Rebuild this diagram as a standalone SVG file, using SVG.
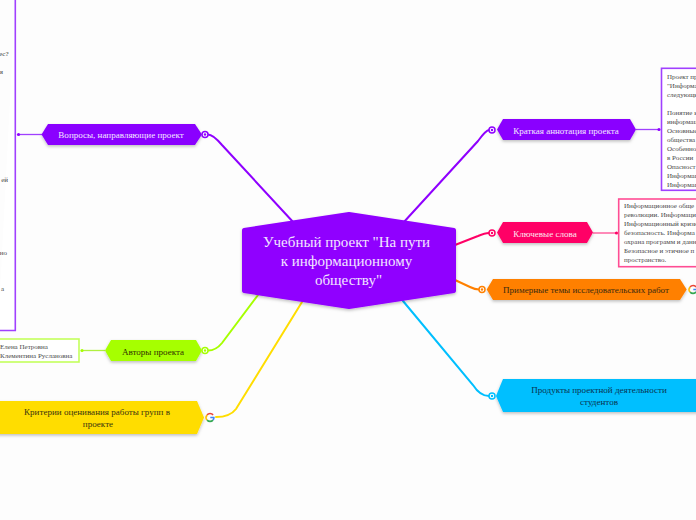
<svg xmlns="http://www.w3.org/2000/svg" width="696" height="520" viewBox="0 0 696 520">
<style>
text{font-family:"Liberation Serif","Times New Roman",serif}
.n{font-size:9.05px;text-anchor:middle}
.w{fill:#f3e6ff}
.p{fill:#fbe6f0}
.d{fill:#333300}
.b{fill:#3a2a10}
.y{fill:#3a3410}
.c{fill:#0a3350}
.s{filter:url(#sh)}
.t{font-size:7px;fill:#4a4a4a}
.l{fill:none;stroke-width:2;stroke-linecap:round}
.k{fill:none;stroke-width:1.3}
.box{fill:#fff;stroke-width:1.6}
.h{fill:#fff;stroke-width:1.5}
.hd{stroke:none}
</style>
<defs>
<filter id="sh" x="-10%" y="-20%" width="120%" height="150%"><feDropShadow dx="0" dy="1.5" stdDeviation="1.5" flood-color="#000" flood-opacity=".25"/></filter>
<g id="goo" fill="none" stroke-width="1.6">
<path d="M3.1 -2.6A4 4 0 0 0 -2.9 -2.6" stroke="#ea4335"/>
<path d="M-2.9 -2.6A4 4 0 0 0 -2.9 2.6" stroke="#fbbc05"/>
<path d="M-2.9 2.6A4 4 0 0 0 3 2.6" stroke="#34a853"/>
<path d="M3 2.6A4 4 0 0 0 3.9 0H0.3" stroke="#4285f4"/>
</g>
</defs>
<rect width="696" height="520" fill="#fdfdfd"/>
<g id="connectors">
<path class="l" stroke="#8f00ff" d="M294 223L222 145Q213 134.500 208 134.500"/>
<path class="l" stroke="#8f00ff" d="M403 223L478 141Q486 130 489 130"/>
<path class="l" stroke="#ff0066" d="M455 245L478 236Q485 233 489 233"/>
<path class="l" stroke="#ff8000" d="M455 280L470 287Q475 289.500 479 289.500"/>
<path class="l" stroke="#00bfff" d="M403 301L473 385Q480 396 489 396"/>
<path class="l" stroke="#a6ff00" d="M258 295L222 343Q216 350.500 208 350.500"/>
<path class="l" stroke="#ffdd00" d="M302 302L236 409Q230 417 216 417"/>
<path class="k" stroke="#a040ff" d="M18 134.500H42"/>
<circle cx="18.500" cy="134.500" r="1.600" fill="#8f00ff"/>
<path class="k" stroke="#b0f040" d="M82 350.500H105"/>
<circle cx="82" cy="350.500" r="1.600" fill="#a6ff00"/>
<path class="k" stroke="#a040ff" d="M636 129.500H659"/>
<circle cx="659" cy="129.500" r="1.600" fill="#8f00ff"/>
<path class="k" stroke="#ff4d94" d="M593 233H616"/>
<circle cx="616.500" cy="233" r="1.600" fill="#ff0066"/>
</g>
<g id="panel-questions">
<path fill="#fff" stroke="#a040ff" stroke-width="1.600" d="M15.300 -2V330.500H-2"/>
<text class="t" x="8.500" y="56" text-anchor="end" style="fill:#333">ес?</text>
<text class="t" x="3" y="74" text-anchor="end">я</text>
<text class="t" x="8" y="182" text-anchor="end">ей</text>
<text class="t" x="7" y="254.500" text-anchor="end">но</text>
<text class="t" x="4" y="290.500" text-anchor="end">а</text>
</g>
<g id="node-questions">
<path class="s" fill="#8a00ff" d="M41.500 134.500L48 124H195L202 134.500L195 145H48Z"/>
<text class="n w" x="121" y="138">Вопросы, направляющие проект</text>
<circle class="h" cx="205" cy="134.500" r="3" stroke="#8f00ff"/>
<circle class="hd" cx="205" cy="134.500" r="1.200" fill="#8f00ff"/>
</g>
<g id="node-center">
<path class="s" fill="#9000ff" stroke="#9000ff" stroke-width="4" stroke-linejoin="round" d="M244 230L349 214L454 230V291L349 307L244 291Z"/>
<text x="346.500" y="246.500" font-size="15" text-anchor="middle" class="w">Учебный проект "На пути</text>
<text x="346.500" y="266" font-size="15" text-anchor="middle" class="w">к информационному</text>
<text x="348.500" y="285" font-size="15" text-anchor="middle" class="w">обществу"</text>
</g>
<g id="node-annotation">
<path class="s" fill="#8a00ff" d="M497 129.500L503 119H630L636 129.500L630 140H503Z"/>
<text class="n w" x="566" y="133.500">Краткая аннотация проекта</text>
<circle class="h" cx="492" cy="130" r="3" stroke="#8f00ff"/>
<circle class="hd" cx="492" cy="130" r="1.200" fill="#8f00ff"/>
</g>
<g id="panel-annotation">
<rect class="box" x="661.500" y="68.300" width="50" height="122" stroke="#a040ff"/>
<text class="t" x="667" y="78.500">Проект пр</text>
<text class="t" x="667" y="87.500">"Информа</text>
<text class="t" x="667" y="96.500">следующи</text>
<text class="t" x="667" y="114.500">Понятие и</text>
<text class="t" x="667" y="123.500">информац</text>
<text class="t" x="667" y="132.500">Основные</text>
<text class="t" x="667" y="141.500">общества</text>
<text class="t" x="667" y="150.500">Особенно</text>
<text class="t" x="667" y="159.500">в России</text>
<text class="t" x="667" y="168.500">Опасност</text>
<text class="t" x="667" y="177.500">Информац</text>
<text class="t" x="667" y="186.500">Информац</text>
</g>
<g id="node-keywords">
<path class="s" fill="#ff0066" d="M497 232.500L503 222H587L593 232.500L587 243H503Z"/>
<text class="n p" x="545" y="236.500">Ключевые слова</text>
<circle class="h" cx="492" cy="233" r="3" stroke="#ff0066"/>
<circle class="hd" cx="492" cy="233" r="1.200" fill="#ff0066"/>
</g>
<g id="panel-keywords">
<rect class="box" x="618.700" y="199" width="90" height="67.700" stroke="#ff4d94"/>
<text class="t" x="624" y="208">Информационное обще</text>
<text class="t" x="624" y="217">революции. Информаци</text>
<text class="t" x="624" y="226.200">Информационный кризи</text>
<text class="t" x="624" y="235.300">безопасность. Информа</text>
<text class="t" x="624" y="244.300">охрана программ и данн</text>
<text class="t" x="624" y="253.300">Безопасное и этичное п</text>
<text class="t" x="624" y="262.300">пространство.</text>
</g>
<g id="node-topics">
<path class="s" fill="#ff8000" d="M486.700 289.500L493 279H680L686.700 289.500L680 300H493Z"/>
<text class="n b" x="586" y="293">Примерные темы исследовательских работ</text>
<circle class="h" cx="482" cy="289.500" r="3" stroke="#ff8000"/>
<circle class="hd" cx="482" cy="289.500" r="1.200" fill="#ff8000"/>
<use href="#goo" x="693" y="289.500"/>
</g>
<g id="node-products">
<path class="s" fill="#00bfff" d="M496 396L503 379H710V412H503Z"/>
<text class="n c" x="599" y="393">Продукты проектной деятельности</text>
<text class="n c" x="599" y="405">студентов</text>
<circle class="h" cx="492" cy="396" r="3" stroke="#00bfff"/>
<circle class="hd" cx="492" cy="396" r="1.200" fill="#00bfff"/>
</g>
<g id="panel-authors">
<rect class="box" x="-5" y="339" width="84" height="23" stroke="#c4ff5c"/>
<text class="t" x="0" y="349">Елена Петровна</text>
<text class="t" x="0" y="358">Клементина Руслановна</text>
</g>
<g id="node-authors">
<path class="s" fill="#a6ff00" d="M105 350.500L111 340H196L202 350.500L196 361H111Z"/>
<text class="n d" x="153" y="354.500">Авторы проекта</text>
<circle class="h" cx="205" cy="350.500" r="3" stroke="#a6ff00"/>
<circle class="hd" cx="205" cy="350.500" r="1.200" fill="#a6ff00"/>
</g>
<g id="node-criteria">
<path class="s" fill="#ffdd00" d="M-10 401H197L204 417.500L197 434H-10Z"/>
<text class="n y" x="97" y="415">Критерии оценивания работы групп в</text>
<text class="n y" x="98" y="427">проекте</text>
<use href="#goo" x="210" y="417.500"/>
</g>
</svg>
